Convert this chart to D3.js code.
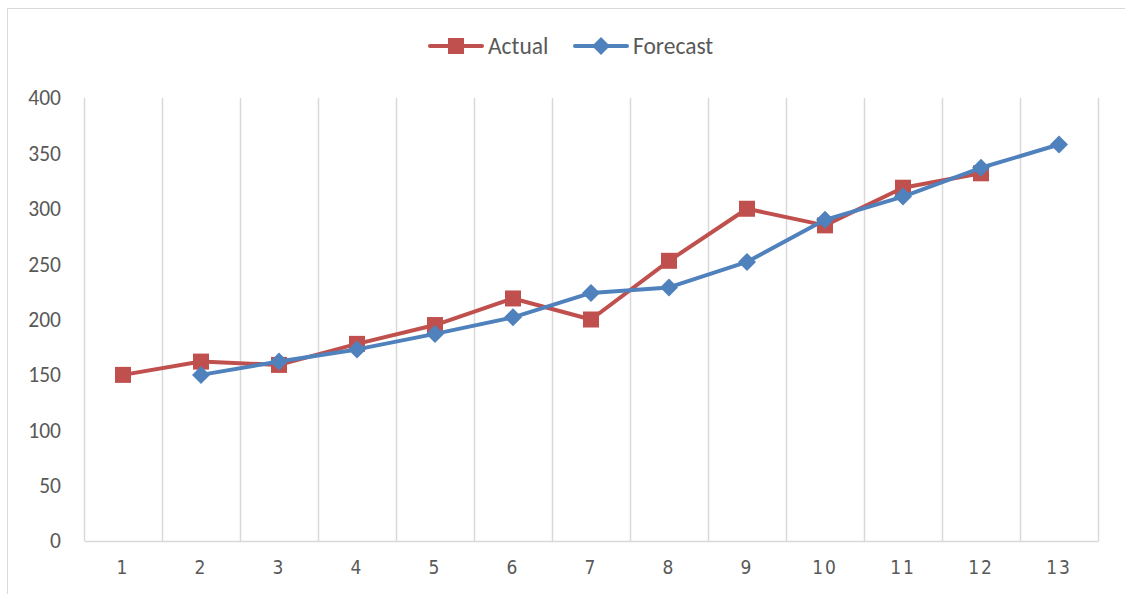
<!DOCTYPE html>
<html>
<head>
<meta charset="utf-8">
<script src="https://cdn.jsdelivr.net/npm/d3@7"></script>
<style>
  html, body { margin: 0; padding: 0; background: #fff; }
  svg { display: block; }
</style>
</head>
<body>
<svg id="chart" width="1125" height="594"></svg>
<script>
// Period labels along the category axis
const periods = ["1","2","3","4","5","6","7","8","9","10","11","12","13"];
// Observed values per period
const actual = [150, 162, 159, 178, 195, 219, 200, 253, 300, 285, 319, 332, null];
// Forecast values per period (no forecast for the first period)
const forecast = [null, 150, 162, 173, 187, 202, 224, 229, 252, 290, 311, 337, 358];
// Value-axis ticks
const yTicks = [0, 50, 100, 150, 200, 250, 300, 350, 400];

const seriesList = [
  { name: "Actual", values: actual, color: "#C0504D", marker: "square" },
  { name: "Forecast", values: forecast, color: "#4F81BD", marker: "diamond" }
];

const svg = d3.select("#chart");
const W = 1125, H = 594;
const plot = { left: 84, right: 1098, top: 98, bottom: 541 };

// Chart frame
svg.append("rect")
  .attr("x", 7.5).attr("y", 8.5)
  .attr("width", W).attr("height", H)
  .attr("fill", "#fff")
  .attr("stroke", "#d9d9d9").attr("stroke-width", 1);

const x = d3.scaleBand().domain(periods).range([plot.left, plot.right]).padding(0);
const y = d3.scaleLinear().domain([0, 400]).range([plot.bottom, plot.top]);

// Vertical gridlines at category boundaries
const bounds = periods.map(p => x(p)).concat([plot.right]);
svg.append("g").selectAll("line").data(bounds).join("line")
  .attr("x1", d => Math.round(d) + 0.5).attr("x2", d => Math.round(d) + 0.5)
  .attr("y1", plot.top).attr("y2", plot.bottom)
  .attr("stroke", "#d9d9d9").attr("stroke-width", 1.5);

// Category axis
const xAxis = svg.append("g")
  .attr("transform", `translate(0,${plot.bottom})`)
  .call(d3.axisBottom(x).tickSize(0).tickPadding(20));
xAxis.select(".domain").attr("stroke", "#d9d9d9").attr("stroke-width", 1.5);
xAxis.selectAll("text")
  .attr("fill", "#595959")
  .style("font-family", "'Liberation Sans Narrow', 'DejaVu Sans Condensed', sans-serif")
  .style("font-size", "19px")
  .style("letter-spacing", "2px");

// Value axis labels
const yAxis = svg.append("g")
  .attr("transform", `translate(${plot.left},0)`)
  .call(d3.axisLeft(y).tickValues(yTicks).tickSize(0).tickPadding(23));
yAxis.select(".domain").remove();
yAxis.selectAll("text")
  .attr("fill", "#595959")
  .style("font-family", "Carlito, 'Open Sans', sans-serif")
  .style("font-size", "21.5px");

const cx = p => x(p) + x.bandwidth() / 2;

function drawMarker(g, type, color, px, py) {
  if (type === "square") {
    g.append("rect").attr("x", px - 8).attr("y", py - 8)
      .attr("width", 16).attr("height", 16).attr("fill", color);
  } else {
    const s = 9;
    g.append("path")
      .attr("d", `M${px},${py - s}L${px + s},${py}L${px},${py + s}L${px - s},${py}Z`)
      .attr("fill", color);
  }
}

// Series lines and markers
seriesList.forEach(s => {
  const pts = periods.map((p, i) => ({ p, v: s.values[i] })).filter(d => d.v != null);
  const line = d3.line().x(d => cx(d.p)).y(d => y(d.v));
  const g = svg.append("g");
  g.append("path").datum(pts)
    .attr("d", line)
    .attr("fill", "none")
    .attr("stroke", s.color)
    .attr("stroke-width", 4)
    .attr("stroke-linejoin", "round")
    .attr("stroke-linecap", "round");
  pts.forEach(d => drawMarker(g, s.marker, s.color, cx(d.p), y(d.v)));
});

// Legend
const legendItems = [
  { s: seriesList[0], x0: 430 },
  { s: seriesList[1], x0: 575 }
];
legendItems.forEach(({ s, x0 }) => {
  const g = svg.append("g");
  const ly = 46;
  g.append("line").attr("x1", x0).attr("x2", x0 + 52).attr("y1", ly).attr("y2", ly)
    .attr("stroke", s.color).attr("stroke-width", 4).attr("stroke-linecap", "round");
  drawMarker(g, s.marker, s.color, x0 + 26, ly);
  g.append("text").attr("x", x0 + 58).attr("y", ly + 8)
    .attr("fill", "#595959")
    .style("font-family", "Carlito, 'Open Sans', sans-serif")
    .style("font-size", "23.5px")
    .text(s.name);
});
</script>
</body>
</html>
